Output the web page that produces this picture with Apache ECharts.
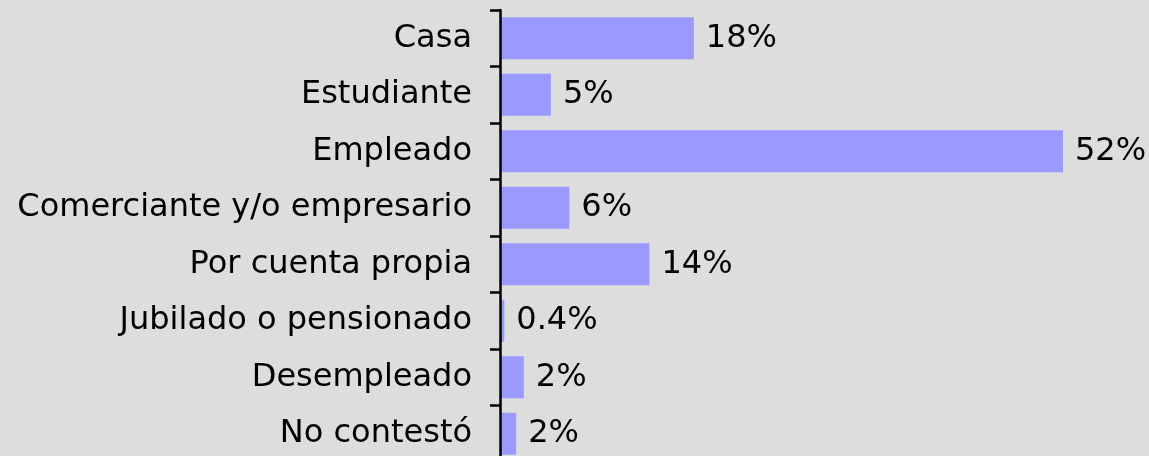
<!DOCTYPE html>
<html>
<head>
<meta charset="utf-8">
<script src="https://cdn.jsdelivr.net/npm/echarts@6/dist/echarts.min.js"></script>
<style>
  html, body { margin: 0; padding: 0; overflow: hidden; background: #dddddd; }
  #chart { width: 1149px; height: 462px; }
</style>
</head>
<body>
<div id="chart"></div>
<script>
// situación laboral
const categories = ['Casa', 'Estudiante', 'Empleado', 'Comerciante y/o empresario',
    'Por cuenta propia', 'Jubilado o pensionado', 'Desempleado', 'No contestó'];
const values = [17.9, 4.7, 52, 6.4, 13.8, 0.4, 2.2, 1.5];
const valueLabels = ['18%', '5%', '52%', '6%', '14%', '0.4%', '2%', '2%'];

const chart = echarts.init(document.getElementById('chart'), null, { renderer: 'canvas' });
chart.setOption({
    backgroundColor: '#dddddd',
    animation: false,
    textStyle: { fontFamily: 'DejaVu Sans' },
    grid: { left: 500, right: 86, top: 10, bottom: 0 },
    xAxis: {
        type: 'value',
        min: 0,
        max: 52,
        show: false
    },
    yAxis: {
        type: 'category',
        inverse: true,
        z: 5,
        data: categories,
        axisLine: { show: true, lineStyle: { color: '#000', width: 2.5 } },
        axisTick: { show: true, inside: false, length: 10, lineStyle: { color: '#000', width: 2.5 } },
        axisLabel: { color: '#000', fontSize: 32, margin: 28 }
    },
    series: [{
        type: 'bar',
        data: values,
        barWidth: 42,
        itemStyle: { color: '#9999ff' },
        label: {
            show: true,
            position: 'right',
            distance: 12,
            color: '#000',
            fontSize: 32,
            formatter: p => valueLabels[p.dataIndex]
        }
    }]
});
</script>
</body>
</html>
